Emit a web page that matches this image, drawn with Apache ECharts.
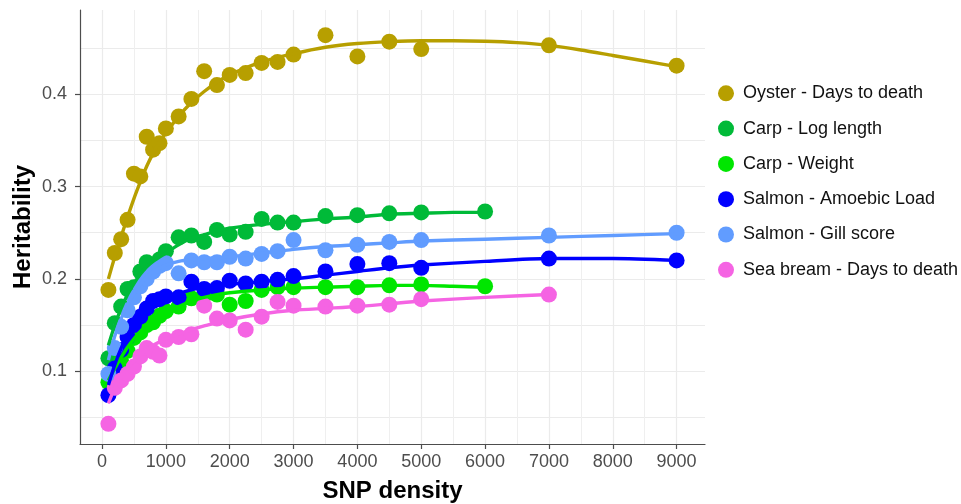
<!DOCTYPE html>
<html>
<head>
<meta charset="utf-8">
<script src="https://cdn.jsdelivr.net/npm/echarts@6/dist/echarts.min.js"></script>
<style>
html,body{margin:0;padding:0;background:#fff;}
#c{width:961px;height:504px;}
</style>
</head>
<body>
<div id="c"></div>
<script>
// ---- data ----
const seriesNames = ["Oyster - Days to death","Carp - Log length","Carp - Weight","Salmon - Amoebic Load","Salmon - Gill score","Sea bream - Days to death"];
const colors = ["#B79F00","#00BA38","#00E600","#0000FF","#619CFF","#F564E3"];

const baseX = [100,200,300,400,500,600,700,800,900,1000,1200,1400,1600,1800,2000,2250,2500,2750,3000,3500,4000,4500,5000];
const oysterX = baseX.concat([7000,9000]);
const carpX = baseX.concat([6000]);
const salmonX = baseX.concat([7000,9000]);
const breamX = baseX.concat([7000]);

const oysterY = [0.188,0.228,0.243,0.264,0.314,0.311,0.354,0.340,0.347,0.363,0.376,0.395,0.425,0.410,0.421,0.423,0.434,0.435,0.443,0.464,0.441,0.457,0.449,0.453,0.431];
const carpLogY = [0.114,0.152,0.170,0.189,0.191,0.208,0.218,0.214,0.221,0.230,0.245,0.247,0.240,0.253,0.248,0.251,0.265,0.261,0.261,0.268,0.269,0.271,0.272,0.273];
const carpWtY = [0.088,0.098,0.110,0.122,0.136,0.142,0.150,0.153,0.160,0.165,0.170,0.179,0.182,0.183,0.172,0.176,0.188,0.191,0.191,0.191,0.191,0.193,0.194,0.192];
const amoebicY = [0.074,0.103,0.123,0.137,0.150,0.159,0.168,0.176,0.178,0.181,0.180,0.197,0.189,0.190,0.198,0.195,0.197,0.199,0.203,0.208,0.216,0.217,0.212,0.222,0.220];
const gillY = [0.097,0.125,0.148,0.166,0.180,0.192,0.200,0.208,0.214,0.217,0.206,0.220,0.218,0.218,0.224,0.222,0.227,0.230,0.242,0.231,0.237,0.240,0.242,0.247,0.250];
const breamY = [0.043,0.082,0.090,0.097,0.105,0.116,0.125,0.121,0.117,0.134,0.137,0.140,0.171,0.157,0.155,0.145,0.159,0.175,0.171,0.170,0.171,0.172,0.178,0.183];

// fitted curves
const oysterFitX = [100,200,300,400,500,600,700,800,900,1000,1200,1400,1600,1800,2000,2500,3000,3500,4000,4500,5000,5500,6000,6500,7000,7500,8000,8500,9000];
const oysterFitY = [0.200,0.224,0.246,0.267,0.287,0.305,0.322,0.336,0.348,0.358,0.376,0.391,0.403,0.413,0.421,0.435,0.444,0.451,0.455,0.457,0.458,0.458,0.4575,0.456,0.453,0.448,0.442,0.436,0.430];
const carpFitX = [100,200,300,400,500,600,700,800,1000,1200,1400,1600,1800,2000,2500,3000,3500,4000,4500,5000,5500,6000];
const carpLogFitY = [0.128,0.150,0.168,0.183,0.195,0.205,0.213,0.219,0.228,0.237,0.244,0.248,0.252,0.255,0.259,0.262,0.265,0.267,0.270,0.271,0.272,0.272];
const carpWtFitY = [0.090,0.103,0.115,0.126,0.135,0.143,0.149,0.154,0.163,0.170,0.176,0.180,0.183,0.185,0.188,0.190,0.191,0.192,0.193,0.193,0.192,0.191];
const salmonFitX = [100,200,300,400,500,600,700,800,1000,1200,1400,1600,2000,2500,3000,3500,4000,4500,5000,6000,7000,8000,9000];
const amoebicFitY = [0.085,0.107,0.125,0.139,0.150,0.159,0.166,0.171,0.178,0.184,0.188,0.191,0.194,0.197,0.200,0.204,0.208,0.212,0.215,0.219,0.222,0.222,0.220];
const gillFitY = [0.112,0.138,0.157,0.172,0.184,0.194,0.202,0.208,0.215,0.219,0.221,0.222,0.224,0.228,0.232,0.235,0.237,0.239,0.241,0.243,0.245,0.247,0.249];
const breamFitX = [100,200,300,400,500,600,700,800,1000,1200,1400,1600,2000,2500,3000,3500,4000,4500,5000,6000,7000];
const breamFitY = [0.065,0.082,0.094,0.103,0.111,0.118,0.123,0.128,0.135,0.140,0.145,0.149,0.156,0.162,0.166,0.168,0.170,0.173,0.176,0.180,0.183];

const xTicks = {min:0, max:9000, step:1000};
const yTicks = {min:0.1, max:0.4, step:0.1};

// ---- build ----
const pts = [[oysterX,oysterY],[carpX,carpLogY],[carpX,carpWtY],[salmonX,amoebicY],[salmonX,gillY],[breamX,breamY]];
const fits = [[oysterFitX,oysterFitY],[carpFitX,carpLogFitY],[carpFitX,carpWtFitY],[salmonFitX,amoebicFitY],[salmonFitX,gillFitY],[breamFitX,breamFitY]];
const zip = (xs, ys) => xs.map((x,i)=>[x, ys[i]]);

const FONT = "Liberation Sans";
const series = [];
pts.forEach((p,i)=>{
  series.push({
    name: seriesNames[i], type:'scatter', xAxisIndex:0, yAxisIndex:0,
    data: zip(p[0],p[1]), symbol:'circle', symbolSize:16,
    itemStyle:{color:colors[i], opacity:1}, z:2+i*0.01
  });
});
fits.forEach((f,i)=>{
  series.push({
    name: seriesNames[i]+' fit', type:'line', xAxisIndex:0, yAxisIndex:0,
    data: zip(f[0],f[1]), showSymbol:false, symbol:'none', smooth:0.25,
    lineStyle:{color:colors[i], width:3.4}, z:5+i*0.01
  });
});

const gridL = 80, gridR = 705, gridT = 10, gridB = 444;
const W = 961, H = 504;
const xMin = -345, xMax = 9445, yMin = 0.0211, yMax = 0.4913;
const px = v => gridL + (v - xMin)/(xMax - xMin)*(gridR-gridL);
const py = v => gridB - (v - yMin)/(yMax - yMin)*(gridB-gridT);

const gridColor = '#ebebeb';
const chart = echarts.init(document.getElementById('c'), null, {renderer:'canvas'});
const gcommon = {containLabel:false, outerBoundsMode:'none'};
chart.setOption({
  animation:false,
  backgroundColor:'#ffffff',
  grid:[
    Object.assign({left:gridL, right:W-gridR, top:gridT, bottom:H-gridB}, gcommon),
    Object.assign({left:px(xTicks.min), right:W-px(xTicks.max), top:gridT, bottom:H-gridB}, gcommon),
    Object.assign({left:gridL, right:W-gridR, top:py(0.45), bottom:H-py(0.05)}, gcommon),
    Object.assign({left:gridL, right:W-gridR, top:py(yTicks.max), bottom:H-py(yTicks.min)}, gcommon)
  ],
  xAxis:[
    {gridIndex:0, type:'value', min:xMin, max:xMax, z:10,
     axisLine:{show:true, onZero:false, lineStyle:{color:'#4d4d4d', width:1.2}},
     axisTick:{show:false}, axisLabel:{show:false}, splitLine:{show:false},
     name:'SNP density', nameLocation:'middle', nameGap:35,
     nameTextStyle:{fontFamily:FONT, fontWeight:'bold', fontSize:24, color:'#000'}},
    {gridIndex:1, type:'value', min:xTicks.min, max:xTicks.max, interval:xTicks.step,
     axisLine:{show:false}, axisTick:{show:true, length:5, lineStyle:{color:'#4d4d4d', width:1.2}},
     axisLabel:{show:true, margin:9, fontFamily:FONT, fontSize:18, color:'#4d4d4d', formatter:v=>String(v)},
     splitLine:{show:true, lineStyle:{color:gridColor, width:1.2}},
     minorTick:{show:false, splitNumber:2},
     minorSplitLine:{show:true, lineStyle:{color:'#efefef', width:1}}},
    {gridIndex:2, type:'value', show:false, min:0, max:1},
    {gridIndex:3, type:'value', show:false, min:0, max:1}
  ],
  yAxis:[
    {gridIndex:0, type:'value', min:yMin, max:yMax, z:10,
     axisLine:{show:true, onZero:false, lineStyle:{color:'#4d4d4d', width:1.2}},
     axisTick:{show:false}, axisLabel:{show:false}, splitLine:{show:false},
     name:'Heritability', nameLocation:'middle', nameGap:45, nameRotate:90,
     nameTextStyle:{fontFamily:FONT, fontWeight:'bold', fontSize:24, color:'#000'}},
    {gridIndex:1, type:'value', show:false, min:0, max:1},
    {gridIndex:2, type:'value', min:0.05, max:0.45, interval:0.05,
     axisLine:{show:false}, axisTick:{show:false}, axisLabel:{show:false},
     splitLine:{show:true, lineStyle:{color:gridColor, width:1.2}}},
    {gridIndex:3, type:'value', min:yTicks.min, max:yTicks.max, interval:yTicks.step,
     axisLine:{show:false}, axisTick:{show:true, length:5, lineStyle:{color:'#4d4d4d', width:1.2}},
     axisLabel:{show:true, margin:13, fontFamily:FONT, fontSize:18, color:'#4d4d4d', formatter:v=>v.toFixed(1)},
     splitLine:{show:false}}
  ],
  legend:{
    orient:'vertical', left:718, top:84.3, padding:0, itemWidth:24, itemHeight:16, itemGap:17.3,
    icon:'circle', data:seriesNames,
    textStyle:{fontFamily:FONT, fontSize:18, color:'#111'}
  },
  series:series
});
</script>
</body>
</html>
